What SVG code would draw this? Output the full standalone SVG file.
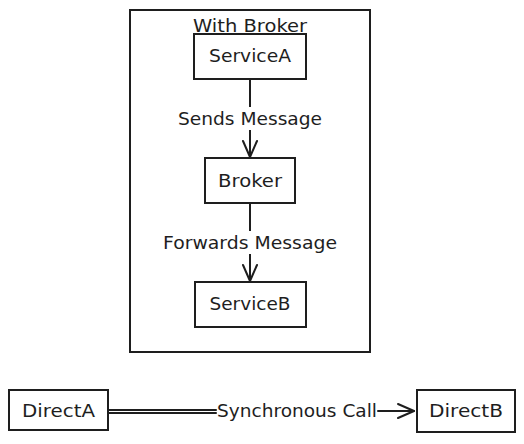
<svg xmlns="http://www.w3.org/2000/svg" width="524" height="444" viewBox="0 0 524 444">
<defs>
<style>
.box{fill:#ffffff;stroke:#1e1e1e;stroke-width:2;}
.frame{fill:none;stroke:#1e1e1e;stroke-width:2;}
.t{font-family:"DejaVu Sans","Liberation Sans",sans-serif;font-size:17px;fill:#1e1e1e;text-anchor:middle;}
.edge{fill:none;stroke:#1e1e1e;stroke-width:2;stroke-linecap:round;stroke-linejoin:round;}
.lbg{fill:#ffffff;}
</style>
<marker id="arr" viewBox="0 0 20 20" refX="18" refY="10" markerWidth="20" markerHeight="20" markerUnits="userSpaceOnUse" orient="auto">
<path d="M2,3 L18,10 L2,17" fill="none" stroke="#1e1e1e" stroke-width="2" stroke-linecap="round" stroke-linejoin="round"/>
</marker>
</defs>
<rect width="524" height="444" fill="#ffffff"/>
<g id="subgraph-with-broker">
<rect class="frame" x="130" y="10" width="240" height="342"/>
<text class="t" x="250" y="32" textLength="114" lengthAdjust="spacingAndGlyphs">With Broker</text>
</g>
<g id="connectors">
<g id="edge-servicea-broker">
<line class="edge" x1="250" y1="79" x2="250" y2="157" marker-end="url(#arr)"/>
<rect class="lbg" x="176" y="107" width="148" height="23"/>
<text class="t" x="250" y="125" textLength="144" lengthAdjust="spacingAndGlyphs">Sends Message</text>
</g>
<g id="edge-broker-serviceb">
<line class="edge" x1="250" y1="203" x2="250" y2="281" marker-end="url(#arr)"/>
<rect class="lbg" x="161" y="231" width="178" height="23"/>
<text class="t" x="250" y="249" textLength="174" lengthAdjust="spacingAndGlyphs">Forwards Message</text>
</g>
<g id="edge-directa-directb">
<line class="edge" x1="108" y1="410" x2="216" y2="410"/>
<line class="edge" x1="108" y1="413" x2="216" y2="413"/>
<line class="edge" x1="378" y1="411" x2="414" y2="411" marker-end="url(#arr)"/>
<text class="t" x="297" y="417" textLength="160" lengthAdjust="spacingAndGlyphs">Synchronous Call</text>
</g>
</g>
<g id="node-servicea">
<rect class="box" x="194" y="34" width="112" height="45"/>
<text class="t" x="250" y="62" textLength="82" lengthAdjust="spacingAndGlyphs">ServiceA</text>
</g>
<g id="node-broker">
<rect class="box" x="205" y="158" width="90" height="45"/>
<text class="t" x="250" y="187" textLength="64" lengthAdjust="spacingAndGlyphs">Broker</text>
</g>
<g id="node-serviceb">
<rect class="box" x="195" y="282" width="111" height="45"/>
<text class="t" x="250" y="310" textLength="81" lengthAdjust="spacingAndGlyphs">ServiceB</text>
</g>
<g id="node-directa">
<rect class="box" x="9" y="390" width="99" height="40"/>
<text class="t" x="58.5" y="417" textLength="73" lengthAdjust="spacingAndGlyphs">DirectA</text>
</g>
<g id="node-directb">
<rect class="box" x="417" y="390" width="98" height="42"/>
<text class="t" x="466" y="417" textLength="74" lengthAdjust="spacingAndGlyphs">DirectB</text>
</g>
</svg>
